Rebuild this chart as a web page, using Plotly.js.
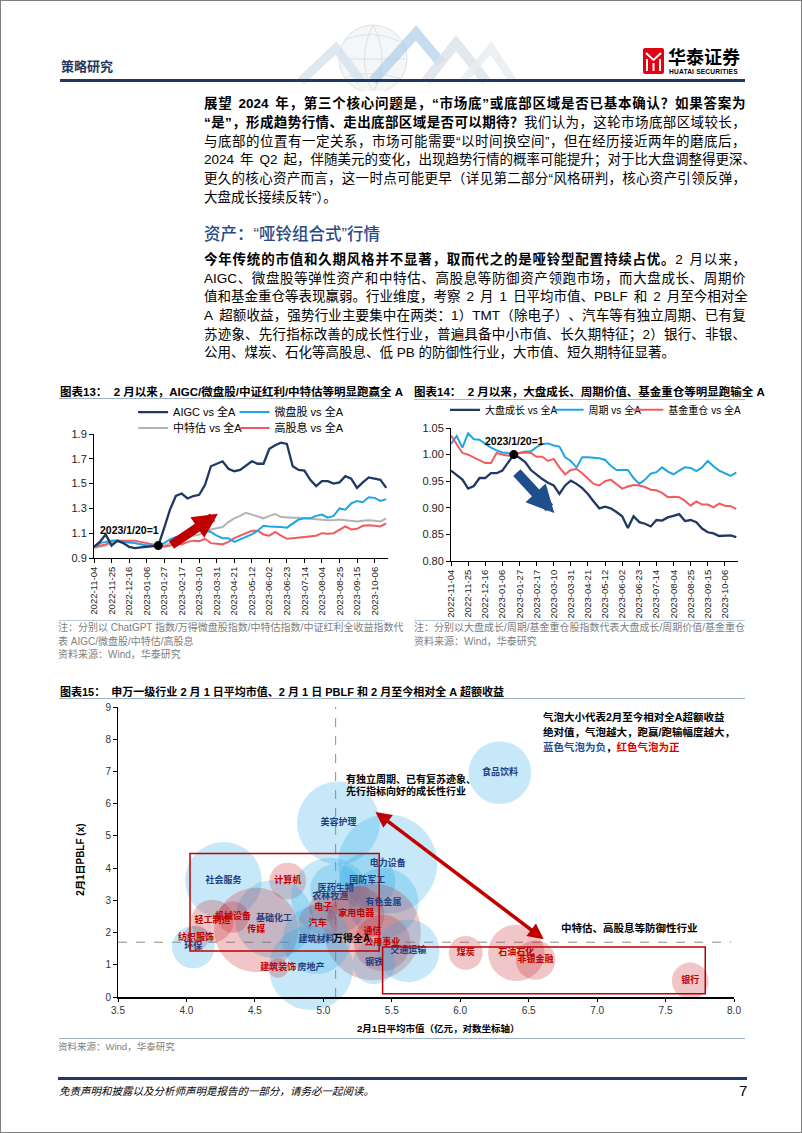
<!DOCTYPE html>
<html lang="zh-CN"><head><meta charset="utf-8">
<script src="https://cdn.plot.ly/plotly-3.0.1.min.js"></script>
<style>
html,body{margin:0;padding:0;background:#fff;}
#page{position:relative;width:802px;height:1133px;box-sizing:border-box;border:1px solid #7f7f7f;overflow:hidden;background:#fff;font-family:"Liberation Sans","Noto Sans CJK SC",sans-serif;color:#000;}
.abs{position:absolute;white-space:nowrap;}
.bl{position:absolute;left:203px;width:542px;font-size:13.5px;line-height:19px;height:19px;white-space:nowrap;text-align:left;}
.bl.j{display:flex;justify-content:space-between;}
.b{font-weight:bold;}
.ct{position:absolute;font-size:11.5px;font-weight:bold;line-height:16px;white-space:nowrap;}
.note{position:absolute;font-size:10px;line-height:13px;color:#808080;white-space:nowrap;}
.rule{position:absolute;height:1px;background:#9fb3c8;}
.chart{position:absolute;}
</style></head>
<body>
<div id="page">
<svg class="abs" style="left:0;top:0" width="802" height="90">
  <circle cx="372" cy="58" r="34" fill="#f4f6f8" stroke="#dde1e5" stroke-width="1"/>
  <path d="M345 38 Q372 28 398 40 M340 58 L404 58 M345 76 Q372 68 400 78 M372 24 Q355 58 372 92 M372 24 Q390 58 372 92" stroke="#dde1e5" fill="none"/>
  <path d="M300 80 L335 47 L360 80" stroke="#d5e2ee" stroke-width="9" fill="none" opacity="0.8"/>
  <path d="M372 80 L415 32 L440 62" stroke="#a9cbe6" stroke-width="10" fill="none" opacity="0.65"/>
  <path d="M425 80 L455 42 L485 80" stroke="#dbe2e9" stroke-width="10" fill="none" opacity="0.8"/>
  <path d="M462 80 L490 47 L512 80" stroke="#e8ecf0" stroke-width="8" fill="none" opacity="0.8"/>
  <rect x="642" y="47" width="21" height="26" rx="2" fill="#e60012"/>
  <path d="M645 52 L652.5 59 L660 52 M646 58 L646 70 M652.5 62 L652.5 70 M659 58 L659 70" stroke="#fff" stroke-width="2" fill="none"/>
</svg>
<div class="abs" style="left:667px;top:45px;font-size:18px;line-height:20px;font-weight:bold;font-family:'Noto Sans CJK SC';">华泰证券</div>
<div class="abs" style="left:668px;top:67px;font-size:6.6px;line-height:7px;font-weight:bold;letter-spacing:0.2px;">HUATAI SECURITIES</div>
<div class="abs" style="left:60px;top:57px;font-size:13px;line-height:18px;font-weight:bold;color:#1f3864;">策略研究</div>
<div class="abs" style="left:59px;top:78px;width:685px;height:3px;background:#1f3864;"></div>

<div class="bl j" style="top:93px;"><span class="b">展望 2024 年，第三个核心问题是，“市场底”或底部区域是否已基本确认？如果答案为</span></div>
<div class="bl j" style="top:112px;"><span class="b">“是”，形成趋势行情、走出底部区域是否可以期待？</span>我们认为，这轮市场底部区域较长，</div>
<div class="bl j" style="top:131px;">与底部的位置有一定关系，市场可能需要“以时间换空间”，但在经历接近两年的磨底后，</div>
<div class="bl j" style="top:149px;">2024 年 Q2 起，伴随美元的变化，出现趋势行情的概率可能提升；对于比大盘调整得更深、</div>
<div class="bl j" style="top:168px;">更久的核心资产而言，这一时点可能更早（详见第二部分“风格研判，核心资产引领反弹，</div>
<div class="bl" style="top:187px;">大盘成长接续反转”）。</div>

<div class="abs" style="left:203px;top:222px;font-size:16.5px;line-height:22px;color:#2b4a86;font-weight:500;">资产：“哑铃组合式”行情</div>

<div class="bl j" style="top:249px;"><span class="b">今年传统的市值和久期风格并不显著，取而代之的是哑铃型配置持续占优。</span>2 月以来，</div>
<div class="bl j" style="top:268px;">AIGC、微盘股等弹性资产和中特估、高股息等防御资产领跑市场，而大盘成长、周期价</div>
<div class="bl j" style="top:286px;">值和基金重仓等表现羸弱。行业维度，考察 2 月 1 日平均市值、PBLF 和 2 月至今相对全</div>
<div class="bl j" style="top:305px;">A 超额收益，强势行业主要集中在两类：1）TMT（除电子）、汽车等有独立周期、已有复</div>
<div class="bl j" style="top:324px;">苏迹象、先行指标改善的成长性行业，普遍具备中小市值、长久期特征；2）银行、非银、</div>
<div class="bl" style="top:342px;">公用、煤炭、石化等高股息、低 PB 的防御性行业，大市值、短久期特征显著。</div>

<div class="ct" style="left:59px;top:383px;">图表13：&nbsp; 2 月以来，AIGC/微盘股/中证红利/中特估等明显跑赢全 A</div>
<div class="rule" style="left:58px;top:397px;width:327px;"></div>
<div class="ct" style="left:413px;top:383px;">图表14：&nbsp; 2 月以来，大盘成长、周期价值、基金重仓等明显跑输全 A</div>
<div class="rule" style="left:413px;top:398px;width:331px;"></div>

<div id="c13" class="chart" style="left:40px;top:400px;width:360px;height:225px;"></div>
<div id="c14" class="chart" style="left:410px;top:400px;width:360px;height:225px;"></div>

<div class="rule" style="left:58px;top:619px;width:326px;background:#b9c8d7;"></div>
<div class="note" style="left:57px;top:620px;">注：分别以 ChatGPT 指数/万得微盘股指数/中特估指数/中证红利全收益指数代</div>
<div class="note" style="left:57px;top:634px;">表 AIGC/微盘股/中特估/高股息</div>
<div class="note" style="left:57px;top:647px;">资料来源：Wind，华泰研究</div>
<div class="rule" style="left:413px;top:619px;width:331px;background:#b9c8d7;"></div>
<div class="note" style="left:413px;top:620px;">注：分别以大盘成长/周期/基金重仓股指数代表大盘成长/周期价值/基金重仓</div>
<div class="note" style="left:413px;top:634px;">资料来源：Wind，华泰研究</div>

<div class="ct" style="left:59px;top:683px;font-size:11px;">图表15：&nbsp; 申万一级行业 2 月 1 日平均市值、2 月 1 日 PBLF 和 2 月至今相对全 A 超额收益</div>
<div class="rule" style="left:58px;top:697px;width:686px;"></div>
<div id="c15" class="chart" style="left:40px;top:700px;width:720px;height:335px;"></div>
<div class="rule" style="left:58px;top:1037px;width:686px;background:#9fb3c8;"></div>
<div class="note" style="left:57px;top:1039px;font-size:9.5px;">资料来源：Wind，华泰研究</div>

<div class="abs" style="left:57px;top:1076px;width:689px;height:3px;background:#1f3864;"></div>
<div class="abs" style="left:58px;top:1083px;font-size:10.5px;line-height:14px;font-style:italic;">免责声明和披露以及分析师声明是报告的一部分，请务必一起阅读。</div>
<div class="abs" style="left:738px;top:1081px;font-size:15px;line-height:18px;">7</div>
</div>

<script>
// Justify each full body line by distributing its tokens across the column (flex space-between)
(function(){
  const re = /[A-Za-z0-9.\/]+|\s+|[^\sA-Za-z0-9.\/]/g;
  document.querySelectorAll('.bl.j').forEach(function(el){
    const parts = [];
    Array.from(el.childNodes).forEach(function(node){
      const bold = node.nodeType === 1;
      (node.textContent.match(re) || []).forEach(function(t){ parts.push({t:t, bold:bold}); });
    });
    el.innerHTML = '';
    let prevSpace = false;
    parts.forEach(function(p){
      if(/^\s+$/.test(p.t)){
        prevSpace = true;
        if(el.lastChild) el.lastChild.style.marginRight = '3px';
        return;
      }
      const s = document.createElement('span');
      s.textContent = p.t;
      if(p.bold) s.style.fontWeight = 'bold';
      if(prevSpace) s.style.marginLeft = '3px';
      prevSpace = false;
      el.appendChild(s);
    });
  });
})();

const FONT = '"Liberation Sans", "Noto Sans CJK SC", sans-serif';

// ---------- Weekly dates (x categories) ----------
const weekDates = ['2022-11-04','2022-11-11','2022-11-18','2022-11-25','2022-12-02','2022-12-09','2022-12-16','2022-12-23','2022-12-30',
 '2023-01-06','2023-01-13','2023-01-20','2023-01-27','2023-02-03','2023-02-10','2023-02-17','2023-02-24','2023-03-03','2023-03-10',
 '2023-03-17','2023-03-24','2023-03-31','2023-04-07','2023-04-14','2023-04-21','2023-04-28','2023-05-05','2023-05-12','2023-05-19',
 '2023-05-26','2023-06-02','2023-06-09','2023-06-16','2023-06-23','2023-06-30','2023-07-07','2023-07-14','2023-07-21','2023-07-28',
 '2023-08-04','2023-08-11','2023-08-18','2023-08-25','2023-09-01','2023-09-08','2023-09-15','2023-09-22','2023-09-29','2023-10-06',
 '2023-10-13','2023-10-20'];
const tickDates = ['2022-11-04','2022-11-25','2022-12-16','2023-01-06','2023-01-27','2023-02-17','2023-03-10','2023-03-31','2023-04-21',
 '2023-05-12','2023-06-02','2023-06-23','2023-07-14','2023-08-04','2023-08-25','2023-09-15','2023-10-06'];
const baseDate = '2023-01-20';
const baseValue = 1;

// ---------- Chart 13 series ----------
const aigc = [0.99,1.03,1.09,1.00,1.04,1.02,0.99,0.98,0.985,0.99,1.00,1.00,1.14,1.29,1.40,1.42,1.38,1.40,1.41,1.49,
 1.64,1.66,1.68,1.62,1.60,1.61,1.645,1.68,1.66,1.66,1.78,1.81,1.83,1.82,1.64,1.61,1.605,1.53,1.48,1.52,
 1.52,1.50,1.51,1.56,1.54,1.465,1.51,1.55,1.54,1.53,1.465];
const microCap = [0.99,1.02,1.03,1.04,1.04,1.03,1.03,1.02,1.01,1.00,1.00,1.00,1.02,1.05,1.07,1.08,1.08,1.10,1.12,1.12,
 1.11,1.08,1.06,1.06,1.03,1.05,1.07,1.09,1.12,1.16,1.155,1.155,1.15,1.145,1.18,1.21,1.22,1.22,1.24,1.25,
 1.225,1.24,1.30,1.29,1.34,1.36,1.35,1.39,1.385,1.36,1.375];
const soeValue = [0.98,0.99,1.00,1.02,1.03,1.03,1.02,1.02,1.01,1.00,1.00,1.00,1.00,1.02,1.04,1.06,1.07,1.08,1.09,1.11,
 1.13,1.14,1.15,1.19,1.22,1.24,1.265,1.25,1.235,1.22,1.24,1.255,1.23,1.225,1.225,1.225,1.22,1.215,1.21,1.21,
 1.205,1.205,1.21,1.205,1.20,1.195,1.20,1.205,1.20,1.195,1.22];
const highDividend = [0.99,1.00,1.01,1.04,1.04,1.04,1.035,1.04,1.03,1.02,1.01,1.00,0.99,1.00,1.02,1.01,1.03,1.04,1.035,1.055,
 1.02,1.015,1.01,1.03,1.06,1.08,1.10,1.12,1.12,1.09,1.08,1.11,1.08,1.055,1.06,1.065,1.07,1.075,1.08,1.10,
 1.095,1.10,1.13,1.155,1.13,1.135,1.16,1.165,1.16,1.155,1.18];

// ---------- Chart 14 series ----------
const largeGrowth = [0.970,0.962,0.953,0.936,0.941,0.956,0.956,0.965,0.965,0.970,0.986,1.000,0.994,0.986,0.971,0.962,0.954,0.947,0.942,0.926,
 0.942,0.951,0.945,0.937,0.926,0.912,0.899,0.902,0.899,0.892,0.884,0.862,0.884,0.873,0.870,0.865,0.877,0.876,0.882,0.885,
 0.888,0.875,0.877,0.873,0.861,0.854,0.852,0.847,0.848,0.848,0.845];
const cyclical = [1.020,1.035,1.013,1.040,1.029,1.028,1.020,1.013,1.008,1.004,1.003,1.000,1.003,1.006,1.006,1.014,1.020,1.021,1.017,1.015,
 0.995,0.988,0.976,0.995,0.995,0.994,0.993,0.990,0.979,0.971,0.971,0.971,0.956,0.945,0.953,0.964,0.967,0.976,0.968,0.963,
 0.970,0.976,0.975,0.969,0.976,0.988,0.978,0.970,0.965,0.960,0.966];
const fundHeavy = [1.036,1.020,1.003,1.000,0.995,0.990,0.984,0.984,1.003,1.000,0.998,1.000,1.003,1.004,1.003,0.996,0.996,0.988,0.992,0.976,
 0.963,0.971,0.973,0.965,0.954,0.945,0.942,0.950,0.953,0.944,0.936,0.940,0.943,0.942,0.939,0.934,0.933,0.928,0.920,0.921,
 0.920,0.913,0.904,0.912,0.906,0.906,0.901,0.908,0.904,0.903,0.898];

// ---------- Chart 15 data ----------
const industries = ['食品饮料','美容护理','电力设备','社会服务','计算机','国防军工','农林牧渔','医药生物','有色金属','电子',
 '家用电器','基础化工','汽车','传媒','通信','公用事业','建筑材料','交通运输','钢铁','房地产',
 '建筑装饰','轻工制造','机械设备','纺织服饰','环保','煤炭','石油石化','非银金融','银行'];
const mktCapLog = [6.29,5.11,5.47,4.27,4.74,5.32,5.05,5.09,5.44,5.00,
 5.24,4.64,4.96,4.51,5.36,5.43,4.95,5.62,5.37,4.91,
 4.67,4.19,4.34,4.07,4.05,6.04,6.41,6.55,7.68];
const pblf = [6.96,5.40,4.13,3.62,3.60,3.60,3.11,3.35,2.92,2.76,
 2.58,2.42,2.27,2.08,2.02,1.68,1.77,1.43,1.06,0.90,
 0.90,2.36,2.48,1.83,1.55,1.37,1.37,1.15,0.50];
const excessRet = [-16,-28,-40,-24,5.5,-13,-25,-10.5,-20,3.3,
 13,-25,6.4,29,38,13,-19,-16,-7.4,-29,
 1.6,7.4,4,2.6,-7.4,4.7,13,6.4,5.5];
const allAName = '万得全A';
const allAMktCap = 5.09;
const allAPblf = 1.70;

const NAVY = '#1f3864', SKY = '#1ea6e2', GRAY = '#b3b3b3', CORAL = '#f25a5f';
const cfg = {staticPlot:true, displayModeBar:false};

function lineAxisX(){
  return {type:'category', range:[0,50.3], tickmode:'array', tickvals:tickDates, ticktext:tickDates, tickangle:-90, automargin:false,
    tickfont:{size:9.5,color:'#222'}, showline:true, linecolor:'#000', linewidth:1, ticks:'outside', ticklen:4, tickcolor:'#000',
    showgrid:false, zeroline:false};
}
function leg(x, y, size){
  return {orientation:'h', x:x, y:y, xanchor:'left', yanchor:'middle', font:{size:size}, bgcolor:'rgba(0,0,0,0)', itemwidth:30};
}

// ---------- Chart 13 ----------
Plotly.newPlot('c13', [
  {x:weekDates, y:soeValue, name:'中特估 vs 全A', mode:'lines', line:{color:GRAY,width:2}, legend:'legend3'},
  {x:weekDates, y:highDividend, name:'高股息 vs 全A', mode:'lines', line:{color:CORAL,width:2}, legend:'legend4'},
  {x:weekDates, y:microCap, name:'微盘股 vs 全A', mode:'lines', line:{color:SKY,width:2}, legend:'legend2'},
  {x:weekDates, y:aigc, name:'AIGC vs 全A', mode:'lines', line:{color:NAVY,width:2.3}, legend:'legend'},
  {x:[baseDate], y:[baseValue], mode:'markers', marker:{color:'#000',size:9}, showlegend:false}
], {
  width:360, height:225, margin:{l:53,r:13,t:33,b:68,autoexpand:false},
  paper_bgcolor:'rgba(0,0,0,0)', plot_bgcolor:'rgba(0,0,0,0)',
  font:{family:FONT,size:11,color:'#000'},
  xaxis:lineAxisX(),
  yaxis:{range:[0.9,1.9], tick0:0.9, dtick:0.2, tickformat:'.1f', showline:true, linecolor:'#000', ticks:'outside', ticklen:4, automargin:false,
    tickcolor:'#000', showgrid:false, zeroline:false, tickfont:{size:11,color:'#222'}},
  legend:leg(0.133,1.177,11), legend2:leg(0.478,1.177,11),
  legend3:leg(0.133,1.048,11), legend4:leg(0.478,1.048,11),
  annotations:[
    {x:21.2, y:1.257, ax:13.0, ay:0.997, xref:'x', yref:'y', axref:'x', ayref:'y', showarrow:true, arrowhead:2, arrowsize:0.55, arrowwidth:9, arrowcolor:'#c00000', text:''},
    {x:baseDate, y:baseValue, xref:'x', yref:'y', text:'<b>2023/1/20=1</b>', showarrow:false, xshift:-29, yshift:16, font:{size:10.5,color:'#000'}}
  ]
}, cfg);

// ---------- Chart 14 ----------
Plotly.newPlot('c14', [
  {x:weekDates, y:largeGrowth, name:'大盘成长 vs 全A', mode:'lines', line:{color:NAVY,width:2.3}, legend:'legend'},
  {x:weekDates, y:cyclical, name:'周期 vs 全A', mode:'lines', line:{color:SKY,width:2}, legend:'legend2'},
  {x:weekDates, y:fundHeavy, name:'基金重仓 vs 全A', mode:'lines', line:{color:CORAL,width:2}, legend:'legend3'},
  {x:[baseDate], y:[baseValue], mode:'markers', marker:{color:'#000',size:9}, showlegend:false}
], {
  width:360, height:225, margin:{l:40,r:33,t:27,b:64.5,autoexpand:false},
  paper_bgcolor:'rgba(0,0,0,0)', plot_bgcolor:'rgba(0,0,0,0)',
  font:{family:FONT,size:11,color:'#000'},
  xaxis:lineAxisX(),
  yaxis:{range:[0.80,1.05], tick0:0.8, dtick:0.05, tickformat:'.2f', showline:true, linecolor:'#000', ticks:'outside', ticklen:4, automargin:false,
    tickcolor:'#000', showgrid:false, zeroline:false, tickfont:{size:11,color:'#222'}},
  legend:leg(-0.021,1.137,10), legend2:leg(0.34,1.137,10), legend3:leg(0.618,1.137,10),
  annotations:[
    {x:18.1, y:0.89, ax:11.3, ay:0.969, xref:'x', yref:'y', axref:'x', ayref:'y', showarrow:true, arrowhead:2, arrowsize:0.55, arrowwidth:10, arrowcolor:'#1f4e8c', text:''},
    {x:baseDate, y:baseValue, xref:'x', yref:'y', text:'<b>2023/1/20=1</b>', showarrow:false, xshift:1, yshift:14, font:{size:10.5,color:'#000'}}
  ]
}, cfg);

// ---------- Chart 15 ----------
const BLUE_FILL = 'rgba(40,170,228,0.38)', RED_FILL = 'rgba(200,40,50,0.38)';
const BLUE_TXT = '#1f3f7f', RED_TXT = '#c00000';
Plotly.newPlot('c15', [
  {type:'scatter', mode:'markers+text', x:mktCapLog, y:pblf, text:industries, textposition:'middle center', cliponaxis:false,
   marker:{size:excessRet.map(Math.abs), sizemode:'area', sizeref:40/4900,
     color:excessRet.map(v => v < 0 ? BLUE_FILL : RED_FILL), line:{width:0}},
   textfont:{size:9, family:'"Noto Sans CJK SC"', weight:'bold', color:excessRet.map(v => v < 0 ? BLUE_TXT : RED_TXT)},
   showlegend:false, hoverinfo:'skip'}
], {
  width:720, height:335, margin:{l:77,r:27,t:6,b:39,autoexpand:false},
  paper_bgcolor:'rgba(0,0,0,0)', plot_bgcolor:'rgba(0,0,0,0)',
  font:{family:FONT,size:10,color:'#000'},
  xaxis:{range:[3.5,8.0], tick0:3.5, dtick:0.5, tickformat:'.1f', showline:true, linecolor:'#000', linewidth:2, ticks:'outside', ticklen:3,
    tickcolor:'#000', showgrid:false, zeroline:false, automargin:false, tickfont:{size:10,color:'#333'}},
  yaxis:{range:[0,9], dtick:1, showline:true, linecolor:'#000', linewidth:1, ticks:'outside', ticklen:4, tickcolor:'#000', automargin:false,
    showgrid:false, zeroline:false, tickfont:{size:10,color:'#333'}},
  shapes:[
    {type:'line', xref:'x', yref:'y', x0:allAMktCap, x1:allAMktCap, y0:0, y1:9, line:{color:'#8c8c8c', width:1, dash:'dash'}, layer:'below'},
    {type:'line', xref:'x', yref:'y', x0:3.5, x1:7.98, y0:allAPblf, y1:allAPblf, line:{color:'#8c8c8c', width:1, dash:'dash'}, layer:'below'},
    {type:'rect', xref:'x', yref:'y', x0:4.026, x1:5.408, y0:1.43, y1:4.45, line:{color:'#c00000', width:1.5}},
    {type:'rect', xref:'x', yref:'y', x0:5.433, x1:7.79, y0:0.10, y1:1.55, line:{color:'#c00000', width:1.5}}
  ],
  annotations:[
    {x:6.61, y:1.79, ax:5.37, ay:5.78, xref:'x', yref:'y', axref:'x', ayref:'y', showarrow:true, arrowhead:2, startarrowhead:2,
     arrowside:'end+start', arrowsize:0.9, startarrowsize:0.9, arrowwidth:3.5, arrowcolor:'#c00000', text:''},
    {x:allAMktCap, y:allAPblf, xref:'x', yref:'y', text:'<b>'+allAName+'</b>', showarrow:false, xanchor:'left', xshift:-5, yshift:4, font:{size:10,color:'#000'}},
    {x:6.59, y:8.70, xref:'x', yref:'y', xanchor:'left', showarrow:false, text:'<b>气泡大小代表2月至今相对全A超额收益</b>', font:{size:10.5,color:'#000'}},
    {x:6.59, y:8.23, xref:'x', yref:'y', xanchor:'left', showarrow:false, text:'<b>绝对值，气泡越大，跑赢/跑输幅度越大，</b>', font:{size:10.5,color:'#000'}},
    {x:6.59, y:7.76, xref:'x', yref:'y', xanchor:'left', showarrow:false, text:'<b><span style="color:#1f4e9a">蓝色气泡为负</span>，<span style="color:#e00000">红色气泡为正</span></b>', font:{size:10.5,color:'#000'}},
    {x:5.15, y:6.76, xref:'x', yref:'y', xanchor:'left', showarrow:false, text:'<b>有独立周期、已有复苏迹象、</b>', font:{size:10,color:'#000'}},
    {x:5.15, y:6.38, xref:'x', yref:'y', xanchor:'left', showarrow:false, text:'<b>先行指标向好的成长性行业</b>', font:{size:10,color:'#000'}},
    {x:6.72, y:2.14, xref:'x', yref:'y', xanchor:'left', showarrow:false, text:'<b>中特估、高股息等防御性行业</b>', font:{size:10.5,color:'#000'}},
    {x:0.52, y:-0.11, xref:'paper', yref:'paper', yanchor:'middle', showarrow:false, text:'<b>2月1日平均市值（亿元，对数坐标轴）</b>', font:{size:9.5,color:'#000'}},
    {x:-0.073, y:0.472, xref:'paper', yref:'paper', showarrow:false, textangle:-90, text:'<b>2月1日PBLF (x)</b>', font:{size:10,color:'#000'}}
  ]
}, cfg);
</script>
</body></html>
